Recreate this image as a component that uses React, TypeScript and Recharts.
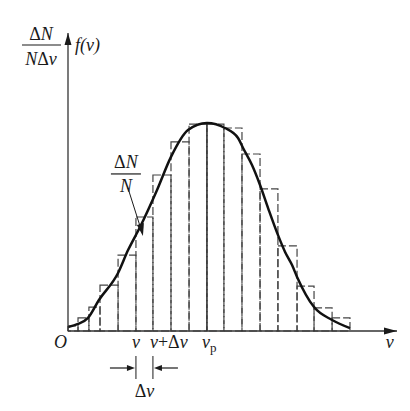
import React from 'react';
import { ComposedChart, Line, XAxis, YAxis, ReferenceArea, ReferenceLine, ReferenceDot } from 'recharts';

// Histogram bin edges (speed, in units of ~Δv) and bar heights ΔN/(NΔv), normalised so the peak ≈ 1
const binEdges = [0, 0.56, 1.17, 1.79, 2.8, 3.8, 4.75, 5.76, 6.77, 7.77, 8.72, 9.73, 10.74, 11.74, 12.81, 13.76, 14.77, 15.77];
const binHeights = [0.024, 0.063, 0.115, 0.221, 0.365, 0.548, 0.75, 0.909, 0.995, 0.995, 0.976, 0.851, 0.683, 0.409, 0.216, 0.111, 0.063];

// Smooth distribution curve f(v)
const curveV = [0, 0.56, 1.12, 1.73, 2.8, 3.36, 4.03, 4.98, 5.76, 6.71, 7.77, 8.78, 9.51, 9.79, 10.29, 10.74, 11.19, 11.74, 12.14, 12.53, 12.81, 13.76, 14.77, 15.77];
const curveF = [0.019, 0.034, 0.063, 0.149, 0.279, 0.389, 0.5, 0.678, 0.837, 0.966, 1.0, 0.976, 0.928, 0.88, 0.798, 0.702, 0.591, 0.462, 0.38, 0.317, 0.26, 0.115, 0.053, 0.014];

// Axis tick positions and labels
const tickValues = [0, 3.8, 4.75, 7.77, 18.0];
const tickLabels = ['O', 'v', 'v+Δv', 'vp', 'v'];

const vp = 7.77;
const vpPeak = 1.0;
const xMax = 18.4;
const yMax = 1.4327;
const annotTip = { x: 4.19, y: 0.457 };

const curveData = curveV.map((v, i) => ({ v, f: curveF[i] }));

const FONT = '"Liberation Serif", "DejaVu Serif", serif';
const INK = '#1a1a1a';
const DASH = '#444';

const Tick = (props: any) => {
  const { x, y, payload } = props;
  const idx = tickValues.indexOf(payload.value);
  const label = tickLabels[idx];
  const base = y + 17;
  const common = { fontFamily: FONT, fontSize: 18, fill: INK } as any;
  if (label === 'O') {
    return <text x={x - 1} y={base} textAnchor="end" fontStyle="italic" {...common}>O</text>;
  }
  if (idx === 1) {
    return (
      <g>
        <text x={x} y={base} textAnchor="middle" fontStyle="italic" {...common}>v</text>
        <line x1={x} x2={x} y1={y + 25} y2={y + 48} stroke={INK} strokeWidth={1} />
        <line x1={x - 26} x2={x - 6} y1={y + 37} y2={y + 37} stroke={INK} strokeWidth={1.2} />
        <path d={`M ${x - 1} ${y + 37} L ${x - 9} ${y + 34} L ${x - 9} ${y + 40} Z`} fill={INK} />
        <text x={x + 8.5} y={y + 66} textAnchor="middle" {...common}>
          Δ<tspan fontStyle="italic">v</tspan>
        </text>
      </g>
    );
  }
  if (idx === 2) {
    return (
      <g>
        <text x={x - 3} y={base} textAnchor="start" {...common}>
          <tspan fontStyle="italic">v</tspan>+Δ<tspan fontStyle="italic">v</tspan>
        </text>
        <line x1={x} x2={x} y1={y + 25} y2={y + 48} stroke={INK} strokeWidth={1} />
        <line x1={x + 25} x2={x + 6} y1={y + 37} y2={y + 37} stroke={INK} strokeWidth={1.2} />
        <path d={`M ${x + 1} ${y + 37} L ${x + 9} ${y + 34} L ${x + 9} ${y + 40} Z`} fill={INK} />
      </g>
    );
  }
  if (idx === 3) {
    return (
      <text x={x - 5} y={base} textAnchor="start" fontStyle="italic" {...common}>
        v<tspan fontStyle="normal" fontSize={13} dy={4}>p</tspan>
      </text>
    );
  }
  return <text x={x} y={base} textAnchor="middle" fontStyle="italic" {...common}>v</text>;
};

const YArrow = (props: any) => {
  const { cx, cy } = props;
  const t = { fontFamily: FONT, fontSize: 18, fill: INK } as any;
  return (
    <g>
      <path d={`M ${cx} ${cy} L ${cx - 3.5} ${cy + 12} L ${cx + 3.5} ${cy + 12} Z`} fill={INK} />
      <text x={cx - 27} y={cy + 7} textAnchor="middle" {...t}>
        Δ<tspan fontStyle="italic">N</tspan>
      </text>
      <line x1={cx - 46} x2={cx - 7} y1={cy + 12} y2={cy + 12} stroke={INK} strokeWidth={1.2} />
      <text x={cx - 27} y={cy + 32} textAnchor="middle" {...t}>
        <tspan fontStyle="italic">N</tspan>Δ<tspan fontStyle="italic">v</tspan>
      </text>
      <text x={cx + 7} y={cy + 18} textAnchor="start" fontStyle="italic" {...t}>f(v)</text>
    </g>
  );
};

const XArrow = (props: any) => {
  const { cx, cy } = props;
  return <path d={`M ${cx} ${cy} L ${cx - 13} ${cy - 3.5} L ${cx - 13} ${cy + 3.5} Z`} fill={INK} />;
};

const Annot = (props: any) => {
  const { cx, cy } = props;
  const t = { fontFamily: FONT, fontSize: 18, fill: INK } as any;
  return (
    <g>
      <line x1={cx - 15} y1={cy - 48} x2={cx - 2} y2={cy - 7} stroke={INK} strokeWidth={1} />
      <path d={`M ${cx} ${cy} L ${cx - 6} ${cy - 11} L ${cx + 1} ${cy - 13} Z`} fill={INK} />
      <text x={cx - 17} y={cy - 68} textAnchor="middle" {...t}>
        Δ<tspan fontStyle="italic">N</tspan>
      </text>
      <line x1={cx - 32} x2={cx - 2} y1={cy - 62} y2={cy - 62} stroke={INK} strokeWidth={1.2} />
      <text x={cx - 17} y={cy - 44} textAnchor="middle" fontStyle="italic" {...t}>N</text>
    </g>
  );
};

export default function App() {
  return (
    <div style={{ position: 'absolute', left: 0, top: 0, background: '#fff' }}>
      <ComposedChart
        width={410}
        height={411}
        data={curveData}
        margin={{ top: 33, right: 13, left: 0, bottom: 0 }}
      >
        <XAxis
          type="number"
          dataKey="v"
          domain={[0, xMax]}
          allowDataOverflow
          ticks={tickValues}
          interval={0}
          tick={<Tick />}
          tickLine={false}
          tickSize={0}
          tickMargin={0}
          height={80}
          axisLine={{ stroke: '#333', strokeWidth: 1.3 }}
        />
        <YAxis
          type="number"
          domain={[0, yMax]}
          allowDataOverflow
          tick={false}
          tickLine={false}
          width={68}
          axisLine={{ stroke: '#333', strokeWidth: 1.3 }}
        />
        {binHeights.map((h, i) => (
          <ReferenceArea
            key={i}
            x1={binEdges[i]}
            x2={binEdges[i + 1]}
            y1={0}
            y2={h}
            fill="none"
            fillOpacity={0}
            stroke={DASH}
            strokeWidth={1.2}
            strokeDasharray="8 3"
            ifOverflow="visible"
          />
        ))}
        <ReferenceLine
          segment={[{ x: vp, y: 0 }, { x: vp, y: vpPeak }]}
          stroke="#333"
          strokeWidth={1.2}
        />
        <Line
          type="monotone"
          dataKey="f"
          stroke="#111"
          strokeWidth={2.5}
          dot={false}
          isAnimationActive={false}
        />
        <ReferenceDot x={0} y={yMax} r={0} ifOverflow="visible" shape={<YArrow />} />
        <ReferenceDot x={xMax} y={0} r={0} ifOverflow="visible" shape={<XArrow />} />
        <ReferenceDot x={annotTip.x} y={annotTip.y} r={0} ifOverflow="visible" shape={<Annot />} />
      </ComposedChart>
    </div>
  );
}
